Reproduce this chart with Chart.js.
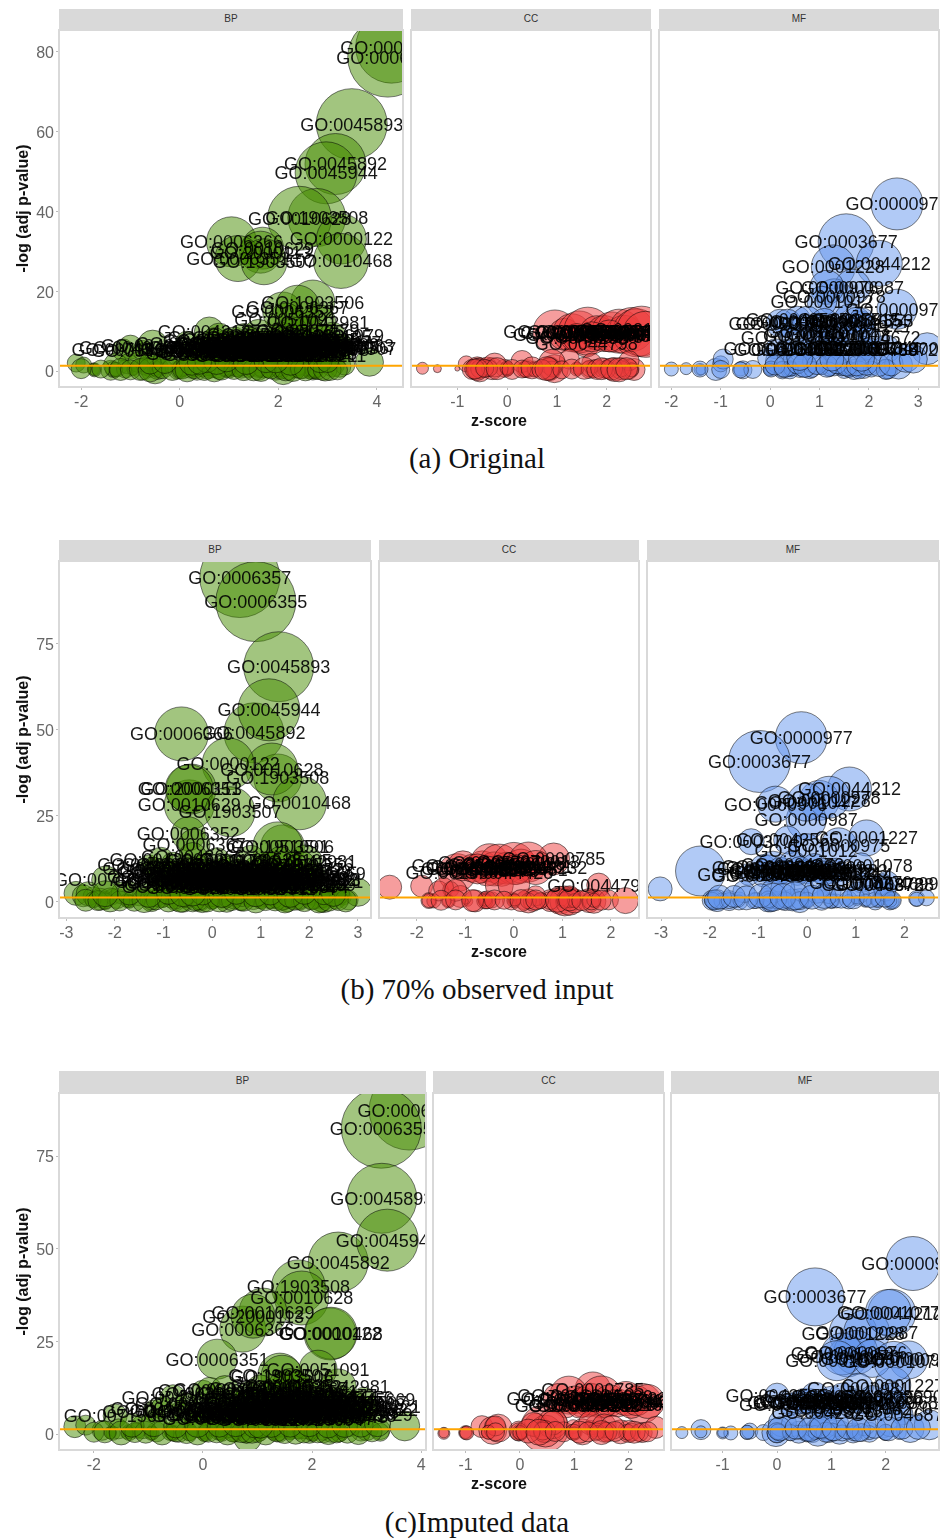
<!DOCTYPE html>
<html>
<head>
<meta charset="utf-8">
<title>GO bubble plots</title>
<script src="https://cdn.jsdelivr.net/npm/chart.js@4"></script>
<style>
html,body{margin:0;padding:0;background:#fff}
#page{position:relative;width:940px;height:1539px;overflow:hidden;font-family:"Liberation Sans",sans-serif}
#page canvas{position:absolute}
.strip{position:absolute;background:#d9d9d9;color:#333;font-size:10px;text-align:center}
.xtitle{position:absolute;left:59px;width:880px;text-align:center;font-weight:bold;font-size:16px;color:#111}
.caption{position:absolute;left:0;width:954px;text-align:center;font-family:"Liberation Serif",serif;font-size:29px;color:#111}
</style>
</head>
<body>
<div id="page"></div>
<script>
// GO terms, the first points of each panel carry these labels
const bpTerms = ['GO:0006357','GO:0006355','GO:0045893','GO:0045892','GO:0045944','GO:1903508','GO:0010628','GO:0000122','GO:0010468','GO:0006366','GO:0010629','GO:2000113','GO:0006351','GO:1903507','GO:1903506','GO:0006352','GO:0006367','GO:0042981','GO:0051091','GO:0071560','GO:0043066','GO:0043065','GO:0043067','GO:0042127','GO:0008284','GO:0008285','GO:0030335','GO:0048666','GO:0007166','GO:0007165','GO:0045595','GO:0051173','GO:0051254','GO:0048523','GO:0006468','GO:0008219','GO:0006915','GO:0001525','GO:0030198','GO:0071559','GO:0007179','GO:0001501','GO:0018105','GO:0045597','GO:0016477','GO:0006979','GO:0035556','GO:0010033','GO:0007507','GO:0045669','GO:0001822','GO:0001221','GO:0048729','GO:0030182','GO:0050673','GO:0009887','GO:0043161','GO:0016567','GO:0010941','GO:0034599'];
const bpTerms2 = ['GO:0007399','GO:0030154','GO:0048468','GO:0009653','GO:0048869','GO:0022008','GO:0048699','GO:0048513','GO:0007275','GO:0048731','GO:0009888','GO:0048856','GO:0051094','GO:0045935','GO:0031328','GO:0009891','GO:0010557','GO:0051128','GO:0033043','GO:0048518','GO:0048522','GO:0048519','GO:0050793','GO:0051239','GO:0050794','GO:0044267','GO:0019538','GO:0043412','GO:0036211','GO:0006796','GO:0006793','GO:0016310','GO:0051246','GO:0032268','GO:0031399','GO:0001932','GO:0042325','GO:0019220','GO:0051174','GO:0010604'];
const ccTerms = ['GO:0000785','GO:0016604','GO:0044798','GO:0005634','GO:0005654','GO:0005730','GO:0005737','GO:0005829','GO:0005694','GO:0005667','GO:0000228','GO:0031981','GO:0070013','GO:0043232','GO:0044428','GO:0005575','GO:0044451','GO:0043233'];
const mfTerms = ['GO:0000977','GO:0003677','GO:0044212','GO:0001228','GO:0000987','GO:0000978','GO:0000976','GO:0000975','GO:0001012','GO:0001227','GO:0001047','GO:0043565','GO:0003700','GO:0001078','GO:0001077','GO:0000981','GO:0003690','GO:0003682','GO:0005515','GO:0004672','GO:0004674','GO:0016301','GO:0019899','GO:0042802','GO:0008134','GO:0046983','GO:0004699','GO:0003788','GO:0042826','GO:0004853','GO:0005096','GO:0030695','GO:0003713','GO:0003714','GO:0008270','GO:0046872'];

// (a) Original, BP
const bpAx = [4.30,4.22,3.49,3.16,2.97,2.78,2.43,3.28,3.27,1.05,1.68,1.64,1.18,1.71,2.70,2.09,2.39,2.80,2.15,-1.15,-1.00,-0.75,-0.55,0.60,0.80,0.95,0.25,0.40,0.60,1.10,1.30,1.45,1.60,1.75,1.90,2.05,2.15,2.30,2.40,2.50,2.60,2.70,2.85,2.95,3.05,3.10,3.20,3.30,3.35,1.00,1.20,1.85,0.70,0.90,1.50,2.20,2.55,2.00,0.15,3.00,
  -2.10,-1.95,-1.75,-1.73,-1.40,-1.35,-1.30,-1.10,-1.05,-0.95,-0.75,-0.70,-0.60,-0.50,-0.45,-0.40,-0.05,0.00,0.02,0.20,0.35,0.45,0.55,0.60,0.75,0.80,0.95,1.00,1.05,1.20,1.25,1.40,1.45,1.60,1.70,1.80,1.95,2.05,2.10,2.20,2.35,2.40,2.50,2.65,2.70,2.75,2.90,3.10,3.25,3.35,3.85,0.10,0.65,1.15,1.55,2.00,2.60,-0.20,-0.85,1.85];
const bpAy = [81.2,78.7,61.9,51.9,49.7,38.5,38.3,33.1,27.6,32.4,30.8,29.8,28.2,27.4,17.3,14.8,16.0,12.2,12.8,5.3,6.0,5.2,6.5,9.8,8.5,7.0,5.4,6.0,5.0,7.8,8.4,6.2,9.2,5.4,7.4,8.8,6.0,9.8,5.2,7.6,10.2,6.4,8.6,5.6,7.2,9.0,6.0,6.4,5.6,5.2,5.8,6.6,7.6,5.6,7.8,7.2,5.6,5.0,7.0,6.6,
  2.0,1.5,0.5,0.3,0.2,0.4,1.5,0.5,1.8,0.3,0.5,1.2,0.2,0.3,0.4,1.0,0.2,0.3,0.4,1.0,0.2,0.6,0.3,0.2,1.0,0.4,0.2,0.5,0.3,1.0,0.2,0.6,0.3,0.2,1.0,0.4,0.2,0.6,0.1,0.3,0.5,1.0,0.6,0.3,0.5,0.2,0.7,1.6,1.2,1.5,2.2,1.4,1.8,1.6,2.0,1.4,1.8,2.0,2.2,2.4];
const bpAcount = [1296,1600,1260,930,960,841,1024,625,756,625,441,441,529,529,484,400,484,324,289,121,144,100,225,225,196,169,100,121,100,169,196,144,225,121,144,196,144,225,100,169,225,144,169,121,144,169,121,121,100,100,121,144,169,121,169,144,100,100,144,121,
  81,64,36,49,100,64,144,81,100,36,121,81,49,196,100,64,81,36,49,121,100,64,81,36,121,100,49,81,36,100,64,81,49,100,121,64,100,81,196,100,81,64,100,81,121,64,144,144,121,100,196,100,121,144,100,121,144,81,100,121];
const bpAx2 = [0.35,0.55,0.70,0.85,0.95,1.05,1.15,1.25,1.35,1.45,1.50,1.60,1.65,1.70,1.80,1.85,1.95,2.00,2.05,2.10,2.20,2.25,2.30,2.35,2.45,2.50,2.55,2.65,2.75,2.80,1.00,1.30,1.55,1.75,2.15,2.40,2.60,0.75,1.40,1.90,
  -1.73,-1.30,-0.95,-0.50,-0.45,0.00,0.02,0.60,0.62,1.00,1.02,1.25,1.60,1.62,2.00,2.05,2.40,2.42,2.70,2.72,2.75,0.30,0.90,1.40,1.80,
  -2.00,-1.60,-1.20,-1.00,-0.80,-0.60,-0.35,-0.15,0.05,0.15,0.30,0.50,0.70,0.85,1.10,1.30,1.50,1.65,1.85,2.15,2.30,2.45,2.55,2.80,2.95,3.05,3.20,0.25,0.55,0.75,0.95,1.35,1.75,2.25,2.85,3.00,-0.60,-0.30,0.40,1.95];
const bpAy2 = [4.4,5.0,4.2,6.0,4.6,6.6,4.2,5.4,4.0,7.0,5.0,4.2,6.2,4.0,5.2,3.8,6.4,4.4,5.2,3.8,4.8,6.4,4.2,7.2,3.8,5.0,4.4,6.8,4.0,5.4,7.0,7.2,6.4,7.4,8.2,6.6,7.8,6.0,5.8,4.6,
  0.3,0.4,0.2,0.3,0.4,0.3,0.2,0.3,0.2,0.4,0.2,0.3,0.4,0.2,0.3,0.2,0.3,0.4,0.2,0.3,0.4,0.3,0.2,0.4,0.3,
  0.6,0.5,0.4,0.3,0.4,0.3,0.6,0.4,0.5,0.3,0.6,0.4,0.3,0.5,0.4,0.6,0.3,0.4,0.5,0.3,0.4,0.6,0.3,0.4,0.5,0.4,0.3,2.2,2.6,2.4,2.8,2.4,2.6,2.2,2.6,2.4,2.0,2.4,2.2,2.8];
const bpAcount2 = [100,81,100,121,81,100,100,81,121,100,81,100,121,81,100,81,121,100,81,100,100,121,81,121,81,100,81,121,100,100,121,121,100,144,144,121,144,100,100,100,
  36,49,25,36,64,81,49,36,64,49,25,36,64,36,49,81,64,36,49,81,64,49,36,25,64,
  100,81,121,100,121,144,100,121,100,144,100,121,144,121,100,144,121,144,100,121,144,100,121,100,144,121,100,169,144,169,144,169,144,169,144,121,121,144,144,169];

// (a) Original, CC
const ccAx = [0.96,1.15,1.59,1.30,1.45,1.62,1.80,1.95,2.10,2.25,2.35,2.50,2.60,2.70,2.78,1.70,2.05,1.40,
  -1.70,-1.40,-1.00,-0.82,-0.70,-0.60,-0.55,-0.40,-0.30,-0.05,0.00,0.02,0.35,0.40,0.55,0.85,0.95,1.00,1.40,1.45,1.65,1.75,1.95,2.05,2.15,2.30,2.45,2.55,0.30,1.25,-0.25,0.90,1.70,2.45];
const ccAy = [9.8,9.2,7.0,9.6,9.8,10.0,9.6,9.4,9.8,10.0,9.2,10.4,9.6,10.0,9.2,8.6,8.8,8.4,
  0.7,0.6,0.6,1.8,0.4,0.8,0.3,1.0,0.6,0.7,0.5,0.3,0.4,0.6,0.5,0.6,0.6,0.4,0.6,0.5,0.4,0.6,0.7,0.5,0.4,0.6,0.5,0.4,2.4,3.0,1.5,2.2,2.0,2.6];
const ccAcount = [484,256,196,361,441,576,289,324,400,484,361,484,576,625,529,225,256,196,
  36,16,6,64,100,121,144,100,121,81,49,36,64,81,64,144,196,9,36,25,81,81,100,100,144,121,100,121,121,100,144,169,100,100];
const ccAx2 = [-0.55,-0.35,-0.02,0.00,0.38,0.55,0.90,1.40,1.65,2.00,2.30,2.50,-0.60,0.85,-0.65,-0.45,-0.20,0.10,0.30,0.50,0.70,0.80,1.10,1.30,1.55,1.80,1.90,2.10,2.25,2.40];
const ccAy2 = [0.5,0.7,0.6,0.8,0.5,0.4,0.5,0.5,0.6,0.4,0.6,0.3,0.4,0.6,0.5,0.7,0.6,0.4,0.5,0.8,0.4,0.6,0.3,0.5,0.7,0.4,0.6,0.5,0.3,0.6];
const ccAcount2 = [81,64,36,49,64,49,64,49,64,81,64,49,121,121,100,81,121,100,81,121,100,144,81,100,121,100,121,121,144,121];

// (a) Original, MF
const mfAx = [2.57,1.54,2.21,1.28,1.67,1.30,1.15,2.57,1.05,1.85,1.35,0.55,0.20,1.40,0.95,0.35,0.75,1.10,1.60,2.00,1.75,0.90,0.45,1.25,1.85,0.65,3.18,1.95,0.10,1.86,0.30,1.50,1.15,2.00,0.85,2.35,
  -2.00,-1.70,-1.42,-1.40,-1.10,-1.00,-0.60,-0.55,-0.35,0.00,0.02,0.25,0.40,0.45,0.60,0.80,1.00,1.05,1.20,1.45,1.50,1.60,1.80,1.90,2.05,2.35,2.40,2.60,0.70,1.30,1.70,0.15,-0.95,-0.05,0.50,1.40,2.00,0.90];
const mfAy = [41.9,32.4,27.0,26.1,21.0,18.6,21.0,15.5,17.5,11.5,9.5,13.0,12.0,9.0,9.8,12.0,12.5,12.2,13.0,8.5,12.5,9.0,8.5,5.5,5.8,5.5,5.6,5.4,5.6,12.6,5.4,5.6,5.8,5.6,5.4,5.5,
  0.5,0.6,0.4,0.3,0.4,1.8,0.5,0.3,0.4,0.5,0.4,0.3,0.6,0.3,0.4,0.6,0.2,0.4,0.6,0.2,0.4,0.3,0.5,0.4,0.7,0.5,0.3,1.5,1.5,1.8,0.4,2.5,3.0,3.2,2.4,2.2,2.6,2.4];
const mfAcount = [676,784,529,484,324,324,289,400,225,196,169,169,196,144,169,196,225,196,225,144,196,169,144,121,144,121,256,121,100,169,100,121,144,121,100,196,
  49,36,36,25,121,64,49,81,81,49,25,81,64,36,64,100,9,25,64,25,81,49,64,81,49,100,81,196,144,144,100,144,100,100,144,144,144,144];
const mfAx2 = [-1.42,-1.00,-0.60,0.00,0.02,0.40,0.42,0.85,1.20,1.45,1.60,1.62,1.80,2.05,2.35,0.25,1.05,0.10,0.30,0.55,0.70,0.95,1.15,1.35,1.55,1.75,1.95,2.20,2.45,2.75,2.90,0.60,1.25,1.85];
const mfAy2 = [0.5,0.4,0.3,0.4,0.5,0.3,0.5,0.4,0.5,0.3,0.4,0.6,0.3,0.5,0.4,0.4,0.6,1.5,1.2,1.8,1.4,1.6,1.2,1.8,1.5,1.3,1.7,1.4,1.8,3.2,3.0,3.4,3.0,3.2];
const mfAcount2 = [64,81,64,36,64,81,49,64,49,36,64,36,81,64,100,64,36,100,121,100,144,100,121,100,121,100,121,121,144,196,196,169,144,169];

// (b) 70% observed input, BP
const bpBx = [0.57,0.90,1.37,0.86,1.17,1.35,1.23,0.33,1.80,-0.63,-0.47,-0.43,-0.47,0.37,1.45,-0.49,-0.37,1.92,1.35,-2.19,-1.30,-1.20,-1.05,-0.90,-0.80,-0.65,-0.55,-0.40,-0.25,-0.15,0.00,0.10,0.25,0.35,0.45,0.55,0.70,0.80,0.95,1.05,1.15,1.30,1.40,1.50,1.65,1.75,1.85,2.00,1.55,2.10,1.95,2.05,1.80,-1.00,-0.70,-0.30,0.20,0.60,1.10,1.70,
  -2.80,-2.65,-2.45,-2.30,-2.20,-2.05,-1.95,-1.75,-1.70,-1.50,-1.35,-1.25,-1.05,-1.00,-0.85,-0.75,-0.60,-0.55,-0.40,-0.25,-0.20,-0.05,0.00,0.02,0.20,0.30,0.45,0.60,0.75,0.85,1.00,1.20,1.35,1.45,1.55,1.60,1.80,1.95,2.10,2.25,2.30,2.45,2.55,2.70,2.80,3.00,-2.55,-1.85,-1.15,-0.50,0.10,0.70,1.30,2.00,2.60,1.05];
const bpBy = [94.2,87.2,68.3,49.1,55.8,36.0,38.6,40.1,28.8,48.8,28.2,32.8,32.9,26.2,16.0,19.8,16.6,11.6,16.0,6.4,10.8,9.8,12.4,8.6,11.0,9.4,7.0,13.2,10.0,6.2,8.4,12.0,7.0,10.4,6.0,9.0,7.4,12.4,8.0,6.4,10.6,8.4,12.0,6.2,9.4,7.2,11.0,6.6,4.6,8.2,6.4,5.8,8.8,6.6,5.6,6.4,5.4,5.6,5.2,5.4,
  2.5,1.8,1.5,0.8,0.4,1.5,1.0,0.4,0.2,1.2,0.2,0.4,1.5,0.2,0.6,0.3,0.2,0.5,1.2,0.2,0.4,0.3,0.2,0.4,0.8,0.2,0.6,0.3,1.0,0.4,0.2,0.6,0.2,0.4,0.3,1.0,0.5,1.2,0.6,0.2,0.4,1.2,0.8,1.4,0.6,2.8,2.4,2.6,2.2,2.8,2.4,2.6,2.8,2.6,2.4,2.2];
const bpBcount = [1600,1600,1225,900,961,576,676,676,729,729,625,625,576,625,484,289,256,289,625,196,100,121,144,121,144,121,100,196,144,100,144,169,100,144,100,144,121,196,121,100,169,121,196,100,144,121,169,100,81,121,100,100,144,100,100,100,100,100,100,100,
  144,121,100,121,81,64,100,36,49,64,36,121,121,9,64,100,121,49,196,100,144,36,49,64,81,121,81,100,64,81,49,81,64,100,121,100,100,64,81,64,144,81,100,64,100,196,144,121,144,144,144,121,144,144,121,144];
const bpBx2 = [-1.10,-0.95,-0.85,-0.75,-0.60,-0.50,-0.35,-0.20,-0.10,0.05,0.15,0.30,0.40,0.50,0.65,0.75,0.85,1.00,1.20,1.35,1.45,1.60,1.70,1.90,-0.45,-0.05,0.25,0.55,0.90,1.25,1.55,1.85,-0.80,-0.30,0.10,0.45,0.80,1.15,1.50,1.75,
  -2.20,-1.75,-1.70,-1.25,-1.00,-0.75,-0.55,-0.25,0.00,0.02,0.30,0.60,0.62,1.00,1.20,1.45,1.55,1.80,2.25,2.27,-2.45,-0.95,0.85,1.30,2.05,
  -2.60,-2.35,-2.10,-1.90,-1.60,-1.40,-1.15,-0.90,-0.65,-0.35,-0.10,0.15,0.40,0.65,0.90,1.10,1.30,1.50,1.70,1.90,2.05,2.20,2.40,2.60,2.75,-2.20,-1.70,-1.30,-0.90,-0.60,-0.20,0.20,0.50,0.90,1.20,1.60,1.90,2.30,2.50,-0.40];
const bpBy2 = [7.4,6.0,9.0,5.2,7.8,6.0,8.2,5.0,7.4,5.6,8.6,5.4,7.8,5.0,8.4,5.2,6.8,5.6,7.2,5.0,8.0,5.4,6.6,5.0,9.6,9.0,9.4,8.0,9.8,9.2,7.4,7.6,4.4,4.2,4.6,4.0,4.4,4.2,4.0,4.6,
  0.3,0.4,0.2,0.3,0.2,0.3,0.4,0.3,0.2,0.4,0.3,0.2,0.4,0.3,0.2,0.3,0.4,0.2,0.3,0.4,0.6,0.2,0.4,0.3,0.2,
  0.5,0.4,0.6,0.3,0.5,0.4,0.6,0.3,0.5,0.4,0.3,0.6,0.4,0.5,0.3,0.4,0.6,0.3,0.5,0.4,0.6,0.3,0.5,0.4,0.3,2.4,2.6,2.2,2.8,2.4,2.6,2.2,2.8,2.4,2.6,2.2,2.8,2.4,2.2,2.6];
const bpBcount2 = [121,100,121,100,121,100,121,100,100,100,121,100,121,100,121,100,100,100,121,100,121,100,100,100,144,144,144,121,144,144,100,121,100,100,100,81,100,100,81,100,
  64,49,36,81,36,64,49,81,64,36,49,81,36,64,49,81,36,64,121,49,64,9,36,49,64,
  121,100,144,100,121,144,100,121,144,100,121,144,100,121,144,100,121,144,100,121,100,144,121,100,121,169,144,169,144,169,144,169,144,169,144,169,144,121,144,169];

// (b) 70% observed input, CC
const ccBx = [0.82,-1.17,1.75,-1.05,-0.85,-0.65,-0.50,-0.40,-0.30,-0.15,0.00,0.15,0.30,0.45,-0.25,-0.55,0.05,-0.75,
  -2.56,-1.90,-1.75,-1.65,-1.55,-1.35,-1.30,-0.95,-0.80,-0.60,-0.55,-0.45,-0.05,0.00,0.20,0.30,0.40,0.55,0.75,0.95,1.05,1.15,1.25,1.55,1.65,1.95,2.30,-1.45,-1.10,-0.30,0.45,1.15,-1.20,0.00];
const ccBy = [12.5,8.5,4.9,10.5,9.8,10.2,11.4,9.6,11.0,9.8,11.2,10.4,11.6,10.0,8.6,9.0,9.4,9.6,
  4.3,4.6,0.4,0.3,3.2,0.3,3.6,0.2,0.3,1.0,0.4,0.6,0.3,0.5,0.4,0.3,0.2,0.3,0.4,0.5,0.3,0.2,0.3,0.4,0.2,0.6,0.4,4.2,1.6,4.8,1.8,1.5,3.4,5.2];
const ccBcount = [256,361,144,225,196,256,361,289,400,256,441,289,400,289,196,225,225,225,
  144,121,64,49,100,49,64,25,121,49,64,64,81,36,81,144,100,64,121,196,225,196,144,144,144,100,169,100,121,196,100,121,121,256];
const ccBx2 = [-1.75,-1.35,-1.00,-0.60,-0.58,0.00,0.02,0.30,0.75,1.00,1.05,1.25,1.60,1.65,-0.55,0.55,-1.50,-1.20,-0.85,-0.40,-0.20,0.15,0.45,0.90,1.15,1.40,1.80];
const ccBy2 = [0.4,0.3,0.2,0.3,0.5,0.4,0.6,0.3,0.4,0.3,0.5,0.4,0.3,0.5,0.6,0.4,0.5,0.6,0.4,0.6,0.5,0.4,0.6,0.5,0.6,0.4,0.5];
const ccBcount2 = [49,36,9,64,36,49,36,64,81,25,64,49,81,49,81,64,100,100,121,100,81,121,100,144,121,100,100];

// (b) 70% observed input, MF
const mfBx = [-0.12,-0.98,0.87,0.25,-0.02,0.45,-0.65,0.65,-0.02,1.22,-0.02,-0.40,-1.15,1.11,-0.90,-0.80,-0.70,-0.55,-0.45,-0.30,-0.15,0.00,0.15,0.30,0.45,0.60,1.64,1.55,-1.20,-0.90,-0.55,-0.20,0.35,0.70,1.10,1.35,
  -3.02,-2.19,-1.95,-1.85,-1.75,-1.60,-1.40,-1.10,-1.00,-0.80,-0.75,-0.60,-0.45,-0.30,-0.15,0.00,0.02,0.30,0.50,0.60,0.85,1.00,1.02,1.20,1.40,1.45,1.70,1.75,2.25,2.45,-1.30,-0.70,-0.10,0.45,1.05,1.60,-0.50,0.20];
const mfBy = [47.7,40.8,32.8,29.5,23.8,30.4,28.4,16.3,14.9,18.6,29.0,18.0,17.5,10.5,10.0,9.6,10.4,9.2,8.6,10.8,9.4,8.8,10.0,9.0,8.4,9.2,5.5,5.0,8.0,7.6,8.6,8.0,8.4,8.0,5.6,5.2,
  3.8,9.0,0.5,0.4,0.3,0.4,0.3,0.4,0.2,0.6,0.3,0.5,0.4,0.6,0.4,0.2,0.3,0.5,0.4,0.3,0.6,0.2,0.4,0.5,0.3,0.4,0.3,0.5,1.0,1.2,3.0,3.2,3.6,3.0,2.6,3.4,4.0,3.4];
const mfBcount = [676,961,484,400,400,441,324,324,289,324,361,196,169,169,169,196,225,169,144,196,169,144,196,169,121,144,144,121,121,121,144,121,144,121,100,100,
  144,625,100,121,64,100,81,64,9,144,121,81,100,121,144,25,36,100,64,49,81,9,25,49,81,36,81,64,64,64,121,144,144,144,121,121,144,169];
const mfBx2 = [-1.95,-1.90,-1.60,-1.40,-0.80,-0.78,-0.45,-0.15,0.00,0.50,0.85,1.20,1.45,1.72,1.75,2.25,-1.05,-1.80,-1.50,-1.25,-0.95,-0.70,-0.50,-0.25,0.10,0.35,0.70,0.95,1.30,1.60];
const mfBy2 = [0.5,0.6,0.4,0.3,0.5,0.4,0.6,0.4,0.5,0.3,0.4,0.5,0.4,0.3,0.5,0.8,0.4,1.4,1.6,1.2,1.8,1.4,1.6,1.8,1.4,1.6,1.4,1.2,1.6,1.4];
const mfBcount2 = [64,100,64,36,81,49,64,81,64,49,36,36,49,36,81,49,64,144,121,144,144,196,169,196,144,144,121,121,121,100];

// (c) Imputed data, BP
const bpCx = [3.78,3.27,3.28,2.48,3.38,1.75,1.81,2.33,2.35,0.73,1.10,0.92,0.26,1.41,1.45,1.60,1.72,2.48,2.11,-1.61,-0.90,-0.75,-0.55,-0.40,-0.30,-0.15,0.00,0.12,0.25,0.40,0.55,0.70,0.85,0.95,1.05,1.20,1.30,1.45,1.55,1.65,1.80,1.90,2.05,2.15,2.25,2.40,2.55,2.65,2.80,2.95,3.00,3.05,2.90,0.00,0.30,0.60,1.00,1.50,2.00,2.60,
  -2.35,-2.15,-1.85,-1.70,-1.65,-1.55,-1.40,-1.35,-1.20,-1.00,-0.95,-0.85,-0.60,-0.55,-0.45,-0.25,0.00,0.02,0.04,0.30,0.35,0.55,0.60,0.82,0.80,1.00,1.05,1.30,1.40,1.60,1.75,1.95,2.00,2.20,2.35,2.50,2.52,2.90,3.00,3.25,3.70,-1.10,-0.10,0.45,1.15,1.85,2.70,0.20,0.70,1.45];
const bpCy = [87.4,82.5,63.6,46.4,52.3,39.7,36.7,27.0,27.2,28.3,32.9,31.8,20.2,15.9,15.6,12.8,12.2,12.7,17.5,4.9,6.2,7.0,9.8,6.4,8.2,6.0,11.0,11.8,7.4,12.0,9.2,6.8,10.8,8.4,12.2,6.6,9.4,13.0,7.6,10.6,6.4,11.6,8.4,6.2,10.4,7.6,9.8,6.0,8.6,9.4,6.6,7.4,5.2,5.0,5.4,5.2,5.6,5.4,5.2,5.6,
  2.0,2.4,1.0,0.4,0.2,1.4,0.3,0.4,1.0,0.4,0.2,0.6,0.5,0.3,1.0,0.4,0.2,0.3,0.4,1.0,0.2,0.6,0.3,-1.0,0.6,0.2,0.3,0.4,0.5,0.3,1.0,0.2,0.4,0.6,0.2,0.3,0.5,0.8,1.5,1.2,2.2,2.0,2.6,2.2,2.4,2.0,2.6,2.4,2.6,2.4];
const bpCcount = [1600,1600,1225,900,961,729,729,676,676,529,576,484,400,484,441,324,289,324,361,144,121,121,169,100,121,100,169,169,121,196,144,121,169,121,196,100,144,196,121,169,100,169,121,100,144,121,144,100,121,144,100,100,81,100,100,100,100,100,100,100,
  121,100,100,36,49,100,36,64,64,9,49,100,36,64,144,64,25,49,81,100,64,100,81,196,121,81,36,64,100,36,81,100,64,121,81,81,36,100,144,100,225,144,144,144,144,144,144,121,144,144];
const bpCx2 = [0.20,0.35,0.50,0.65,0.80,0.90,1.00,1.10,1.25,1.35,1.50,1.60,1.70,1.85,1.95,2.10,2.20,2.30,2.45,2.60,0.75,1.15,1.40,1.75,2.05,2.35,0.45,0.95,1.30,1.65,1.90,2.25,2.55,2.75,1.05,1.45,1.80,0.60,1.20,2.00,
  -1.70,-1.35,-0.95,-0.93,-0.60,-0.55,0.00,0.02,0.30,0.55,0.60,1.00,1.05,1.30,1.60,1.98,2.00,2.50,2.52,3.25,0.80,1.40,1.75,2.20,-0.25,
  -2.00,-1.80,-1.50,-1.25,-1.05,-0.75,-0.50,-0.30,-0.10,0.10,0.25,0.45,0.70,0.90,1.15,1.35,1.50,1.70,1.85,2.10,2.30,2.45,2.65,2.85,3.10,-1.30,-0.90,-0.50,-0.10,0.30,0.60,0.95,1.25,1.60,1.95,2.30,2.60,2.90,3.20,1.05];
const bpCy2 = [4.2,5.4,4.4,6.2,4.8,7.4,4.2,5.6,4.6,7.0,4.4,5.6,4.2,7.2,4.8,5.4,4.2,7.6,4.6,5.0,8.6,9.0,8.4,8.8,9.2,8.6,7.0,9.4,10.0,10.2,9.6,8.8,7.2,6.6,6.0,6.2,5.8,4.6,4.0,4.0,
  0.3,0.4,0.2,0.3,0.4,0.2,0.3,0.2,0.4,0.3,0.2,0.4,0.3,0.2,0.3,0.4,0.2,0.3,0.4,0.5,0.2,0.3,0.4,0.2,0.3,
  0.5,0.6,0.3,0.4,0.5,0.3,0.6,0.4,0.3,0.5,0.6,0.3,0.4,0.5,0.3,0.6,0.4,0.5,0.3,0.6,0.4,0.3,0.5,0.4,0.6,2.4,2.8,2.2,2.6,2.4,2.8,2.2,2.6,2.4,2.8,2.2,2.6,2.4,2.8,2.4];
const bpCcount2 = [100,100,100,121,100,121,100,100,100,121,100,100,100,121,100,100,100,121,100,100,144,144,144,144,144,144,121,144,144,169,144,144,121,100,100,121,100,100,100,100,
  36,36,9,49,64,49,36,64,49,81,36,25,64,36,49,49,64,81,36,81,100,64,36,49,64,
  100,121,144,100,121,144,100,121,144,100,121,144,100,121,144,100,121,144,100,121,144,100,121,144,100,144,169,144,169,144,169,144,169,144,169,144,169,144,169,169];

// (c) Imputed data, CC
const ccCx = [1.34,0.90,2.24,0.70,1.00,1.15,1.30,1.50,1.65,1.80,1.95,2.05,2.15,1.25,1.55,0.85,1.10,2.35,
  -1.40,-1.00,-0.70,-0.58,-0.50,-0.40,-0.02,0.00,0.02,0.30,0.45,0.47,0.60,0.80,0.98,1.00,1.15,1.30,1.40,1.55,1.62,1.85,2.00,2.05,2.25,2.50,0.25,0.60,1.30,1.55,-0.45,1.70];
const ccCy = [11.9,10.5,8.3,9.6,9.2,8.6,9.4,10.0,9.0,8.4,9.6,8.0,9.0,7.8,8.0,7.6,7.8,8.8,
  0.2,0.4,2.0,0.5,1.0,1.6,0.8,0.5,0.3,2.4,1.5,0.8,2.8,0.6,2.0,0.5,0.6,1.8,2.2,0.5,0.3,0.6,0.7,0.5,0.4,1.8,2.6,3.0,3.0,2.2,2.2,1.8];
const ccCcount = [324,361,400,225,196,225,256,441,256,196,289,196,225,144,169,144,169,289,
  36,49,121,49,196,196,100,64,36,144,576,256,225,100,49,64,169,49,121,100,64,144,121,81,100,121,144,144,144,144,100,144];
const ccCx2 = [-1.40,-1.00,-0.98,-0.58,-0.02,0.00,0.45,0.98,1.00,1.40,1.42,1.60,1.98,2.20,-0.45,0.42,0.15,0.35,0.65,1.10,1.25,1.50,1.75,2.10,2.35];
const ccCy2 = [0.3,0.4,0.3,0.5,0.6,0.4,0.7,0.5,0.3,0.6,0.4,0.5,0.5,0.4,0.6,0.8,0.8,0.5,0.7,0.5,0.6,0.4,0.7,0.5,0.6];
const ccCcount2 = [25,36,49,49,81,49,121,64,36,81,49,100,64,81,81,81,144,169,100,121,100,144,100,121,100];

// (c) Imputed data, MF
const mfCx = [2.50,0.70,2.11,1.40,1.65,1.30,1.45,2.42,1.20,2.13,1.10,0.00,1.75,2.15,2.05,1.50,2.10,2.20,0.50,0.62,0.70,0.85,1.00,1.10,1.20,1.40,1.60,1.75,0.84,0.25,0.40,0.55,1.00,1.35,1.90,2.30,
  -1.75,-1.40,-1.00,-0.85,-0.55,-0.50,-0.25,-0.02,0.00,0.02,0.25,0.40,0.55,0.65,0.75,0.95,1.00,1.02,1.15,1.40,1.45,1.70,1.98,2.00,2.25,2.45,2.80,0.10,0.30,0.70,1.10,1.60,2.10,0.85];
const mfCy = [46.0,37.0,32.6,27.2,27.4,20.8,22.0,20.0,21.6,13.2,19.8,10.5,20.4,19.6,32.8,12.4,10.0,8.4,8.8,9.0,10.2,8.6,9.4,8.2,10.0,9.0,8.4,9.6,5.9,8.0,8.6,8.2,6.4,7.2,7.0,5.4,
  0.4,1.2,0.3,0.3,0.4,0.8,0.4,0.4,0.3,0.2,0.6,0.5,0.3,0.4,0.5,0.4,0.3,0.1,0.5,0.3,0.4,0.5,0.3,0.4,0.4,1.5,2.5,3.0,2.6,2.4,2.6,2.8,3.0,2.4];
const mfCcount = [729,841,576,576,529,400,484,361,441,324,400,144,361,400,529,225,196,144,169,144,196,144,169,121,196,144,121,169,121,121,144,121,100,121,144,121,
  36,100,36,49,49,64,64,196,100,36,81,121,81,100,196,100,9,49,144,100,36,100,25,64,49,196,225,196,144,169,144,144,196,196];
const mfCx2 = [-1.40,-1.00,-0.55,0.00,0.02,0.40,0.55,0.70,1.02,1.20,1.40,1.42,1.70,2.00,0.25,0.90,1.55,0.05,0.35,0.60,0.80,1.05,1.30,1.50,1.80,2.05,2.30,2.60];
const mfCy2 = [0.6,0.4,0.5,0.4,0.6,0.5,0.3,0.4,0.5,0.3,0.5,0.3,0.4,0.5,0.4,0.5,0.4,1.4,1.6,1.2,1.8,1.4,1.6,1.2,1.8,1.4,1.6,1.8];
const mfCcount2 = [36,25,49,100,64,49,64,49,81,64,36,64,49,64,64,100,81,144,121,144,121,144,121,144,121,144,121,144];

// axis ticks and ranges
const yTicksA = [0,20,40,60,80], yTicksBC = [0,25,50,75];
const threshold = 1.3;
const stripNames = ['BP','CC','MF'];
const colors = ['rgba(69,139,0,0.5)','rgba(238,59,59,0.5)','rgba(100,149,237,0.5)'];

const rows = [
  {top:30, bottom:387, stripTop:9, titleY:412, capY:442, cap:'(a) Original', yMin:-4, yMax:85.5, yTicks:yTicksA, panels:[
    {l:59,r:403,min:-2.45,max:4.53,ticks:[-2,0,2,4],x:bpAx,y:bpAy,c:bpAcount,t:bpTerms,x2:bpAx2,y2:bpAy2,c2:bpAcount2,t2:bpTerms2},
    {l:411,r:651,min:-1.93,max:2.89,ticks:[-1,0,1,2],x:ccAx,y:ccAy,c:ccAcount,t:ccTerms,x2:ccAx2,y2:ccAy2,c2:ccAcount2,t2:[]},
    {l:659,r:939,min:-2.25,max:3.42,ticks:[-2,-1,0,1,2,3],x:mfAx,y:mfAy,c:mfAcount,t:mfTerms,x2:mfAx2,y2:mfAy2,c2:mfAcount2,t2:[]}]},
  {top:561, bottom:918, stripTop:540, titleY:943, capY:973, cap:'(b) 70% observed input', yMin:-4.65, yMax:99, yTicks:yTicksBC, panels:[
    {l:59,r:371,min:-3.15,max:3.27,ticks:[-3,-2,-1,0,1,2,3],x:bpBx,y:bpBy,c:bpBcount,t:bpTerms,x2:bpBx2,y2:bpBy2,c2:bpBcount2,t2:bpTerms2},
    {l:379,r:639,min:-2.78,max:2.58,ticks:[-2,-1,0,1,2],x:ccBx,y:ccBy,c:ccBcount,t:ccTerms,x2:ccBx2,y2:ccBy2,c2:ccBcount2,t2:[]},
    {l:647,r:939,min:-3.29,max:2.71,ticks:[-3,-2,-1,0,1,2],x:mfBx,y:mfBy,c:mfBcount,t:mfTerms,x2:mfBx2,y2:mfBy2,c2:mfBcount2,t2:[]}]},
  {top:1093, bottom:1450, stripTop:1071, titleY:1475, capY:1506, cap:'(c)Imputed data', yMin:-4.3, yMax:92, yTicks:yTicksBC, panels:[
    {l:59,r:426,min:-2.64,max:4.09,ticks:[-2,0,2,4],x:bpCx,y:bpCy,c:bpCcount,t:bpTerms,x2:bpCx2,y2:bpCy2,c2:bpCcount2,t2:bpTerms2},
    {l:433,r:664,min:-1.6,max:2.65,ticks:[-1,0,1,2],x:ccCx,y:ccCy,c:ccCcount,t:ccTerms,x2:ccCx2,y2:ccCy2,c2:ccCcount2,t2:[]},
    {l:671,r:939,min:-1.95,max:2.98,ticks:[-1,0,1,2],x:mfCx,y:mfCy,c:mfCcount,t:mfTerms,x2:mfCx2,y2:mfCy2,c2:mfCcount2,t2:[]}]}
];

// border of each panel and GO labels on top of the bubbles
const panelPlugin = {
  id:'panelPlugin',
  afterDatasetsDraw(chart, args, opts){
    const a = chart.chartArea, c = chart.ctx;
    const sx = chart.scales.x, sy = chart.scales.y;
    c.save();
    c.beginPath();
    c.rect(a.left, a.top, a.right-a.left, a.bottom-a.top);
    c.clip();
    c.font = '18px "Liberation Sans"';
    c.fillStyle = 'rgba(0,0,0,0.9)';
    c.textAlign = 'center';
    c.textBaseline = 'middle';
    opts.panel.t.forEach((t,i) => {
      c.fillText(t, sx.getPixelForValue(opts.panel.x[i]), sy.getPixelForValue(opts.panel.y[i]) + 1.5);
    });
    opts.panel.t2.forEach((t,i) => {
      c.fillText(t, sx.getPixelForValue(opts.panel.x2[i]), sy.getPixelForValue(opts.panel.y2[i]) + 1.5);
    });
    c.restore();
    c.save();
    c.strokeStyle = '#d9d9d9';
    c.lineWidth = 2;
    c.strokeRect(a.left, a.top, a.right-a.left, a.bottom-a.top);
    c.restore();
  }
};

const page = document.getElementById('page');
const pad = 14;

function addDiv(cls, css, text){
  const d = document.createElement('div');
  d.className = cls;
  d.style.cssText = css;
  d.textContent = text;
  page.appendChild(d);
}

function noPadding(s){
  s.paddingTop = 0; s.paddingBottom = 0; s.paddingLeft = 0; s.paddingRight = 0;
}

rows.forEach(row => {
  row.panels.forEach((p, i) => {
    addDiv('strip', `left:${p.l}px;width:${p.r-p.l}px;top:${row.stripTop}px;height:${row.top-1-row.stripTop}px;line-height:${row.top-2-row.stripTop}px`, stripNames[i]);

    const first = i === 0;
    const cv = document.createElement('canvas');
    const left = first ? 0 : p.l - pad;
    const w = p.r + pad - left, h = row.bottom - row.top + 32;
    cv.width = w; cv.height = h;
    cv.style.cssText = `left:${left}px;top:${row.top-1}px;width:${w}px;height:${h}px`;
    page.appendChild(cv);

    const xs = p.x.concat(p.x2), ys = p.y.concat(p.y2), cs = p.c.concat(p.c2);
    const points = xs.map((v, k) => ({x:v, y:ys[k], r:Math.sqrt(cs[k])}));
    new Chart(cv, {
      type:'bubble',
      data:{datasets:[
        {data:points, backgroundColor:colors[i], borderColor:'rgba(0,0,0,0.5)', borderWidth:1, clip:0, order:1},
        {type:'line', data:[{x:p.min,y:threshold},{x:p.max,y:threshold}], borderColor:'#ffa500', borderWidth:2, pointRadius:0, clip:0, order:0}
      ]},
      options:{
        responsive:false, animation:false, devicePixelRatio:1,
        layout:{autoPadding:false, padding:{left:first?0:pad, right:pad, top:1, bottom:0}},
        plugins:{legend:{display:false}, tooltip:{enabled:false},
          panelPlugin:{panel:p}},
        scales:{
          x:{type:'linear', min:p.min, max:p.max,
            afterBuildTicks:s => { s.ticks = p.ticks.map(v => ({value:v})); },
            afterFit:s => { s.height = 31; noPadding(s); },
            grid:{drawOnChartArea:false, color:'#bbb', tickLength:3},
            border:{display:false},
            ticks:{color:'#666', font:{family:'Liberation Sans', size:16}, padding:3, autoSkip:false, maxRotation:0, includeBounds:false}},
          y:{type:'linear', display:first, min:row.yMin, max:row.yMax,
            afterBuildTicks:s => { s.ticks = row.yTicks.map(v => ({value:v})); },
            afterFit:s => { s.width = first ? 59 : 0; noPadding(s); },
            grid:{drawOnChartArea:false, color:'#bbb', tickLength:3},
            border:{display:false},
            title:{display:first, text:'-log (adj p-value)', color:'#111', font:{family:'Liberation Sans', size:16, weight:'bold'}, padding:{top:14,bottom:0}},
            ticks:{color:'#666', font:{family:'Liberation Sans', size:16}, padding:2, labelOffset:2, autoSkip:false, includeBounds:false}}
        }
      },
      plugins:[panelPlugin]
    });
  });
  addDiv('xtitle', `top:${row.titleY}px`, 'z-score');
  addDiv('caption', `top:${row.capY}px`, row.cap);
});
</script>
</body>
</html>
